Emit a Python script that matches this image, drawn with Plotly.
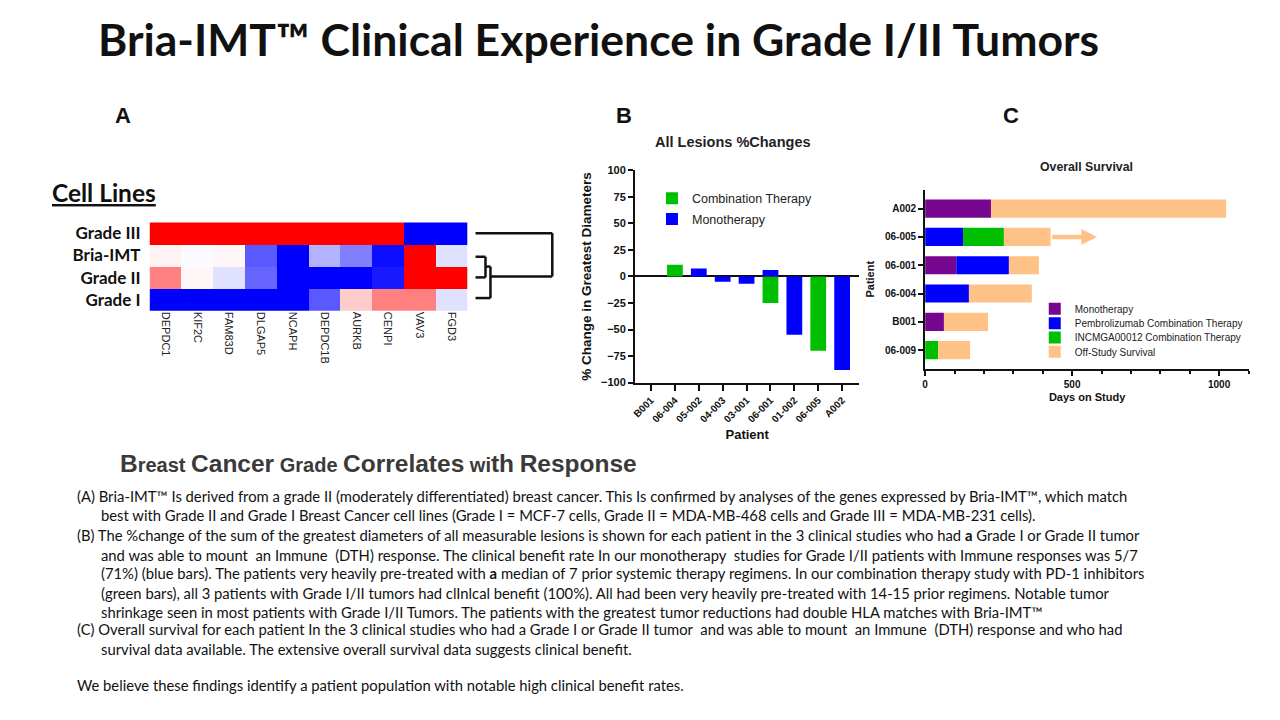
import plotly.graph_objects as go

W, H = 1280, 720

def px(x):
    return x / W

def py(y):
    return 1 - y / H

# ---------------- Data ----------------
# Panel A: heatmap
genes = ["DEPDC1", "KIF2C", "FAM83D", "DLGAP5", "NCAPH", "DEPDC1B", "AURKB", "CENPI", "VAV3", "FGD3"]
cell_lines = ["Grade III", "Bria-IMT", "Grade II", "Grade I"]
expr_grade3 = [1, 1, 1, 1, 1, 1, 1, 1, -1, -1]
expr_bria = [0.05, -0.02, 0.03, -0.65, -1, -0.3, -0.5, -0.95, 1, -0.12]
expr_grade2 = [0.5, 0.03, -0.12, -0.6, -1, -1, -1, -0.9, 1, 1]
expr_grade1 = [-1, -1, -1, -1, -1, -0.65, 0.2, 0.5, 0.5, -0.12]

# Panel B: waterfall
patients_b = ["B001", "06-004", "05-002", "04-003", "03-001", "06-001", "01-002", "06-005", "A002"]
combination_change = [None, 11, None, None, None, -25, None, -70, None]
mono_change = [None, None, 7.5, -5, -7, 6, -55, None, -88]

# Panel C: overall survival (days)
patients_c = ["06-009", "B001", "06-004", "06-001", "06-005", "A002"]
mono_days = [None, 64, None, 106, None, 224]
pembro_days = [None, None, 149, 179, 129, None]
incmga_days = [44, None, None, None, 139, None]
offstudy_days = [109, 150, 214, 102, 159, 800]
arrow_start_06_005 = 427
arrow_end_06_005 = 585

BLACK = "#111111"
GREEN = "#00BF00"
BLUE = "#0000FF"
PURPLE = "#76058F"
PEACH = "#FFC286"
SANS = "Liberation Sans, Arial"

fig = go.Figure()

# ---------------- Panel A heatmap ----------------
fig.add_trace(go.Heatmap(
    z=[expr_grade3, expr_bria, expr_grade2, expr_grade1],
    x=genes, y=cell_lines,
    colorscale=[[0, "#0000FF"], [0.5, "#FFFFFF"], [1, "#FF0000"]],
    zmin=-1, zmax=1, showscale=False,
    xaxis="x", yaxis="y", hoverinfo="skip",
))

# ---------------- Panel B bars ----------------
fig.add_trace(go.Bar(
    x=patients_b, y=combination_change, name="Combination Therapy",
    marker=dict(color=GREEN, line=dict(width=0)), width=0.66,
    xaxis="x2", yaxis="y2", legend="legend",
))
fig.add_trace(go.Bar(
    x=patients_b, y=mono_change, name="Monotherapy",
    marker=dict(color=BLUE, line=dict(width=0)), width=0.66,
    xaxis="x2", yaxis="y2", legend="legend2",
))

# ---------------- Panel C bars ----------------
c_series = [
    (mono_days, "Monotherapy", PURPLE, "legend3"),
    (pembro_days, "Pembrolizumab Combination Therapy", BLUE, "legend4"),
    (incmga_days, "INCMGA00012 Combination Therapy", GREEN, "legend5"),
    (offstudy_days, "Off-Study Survival", PEACH, "legend6"),
]
for vals, name, col, lg in c_series:
    fig.add_trace(go.Bar(
        y=patients_c, x=vals, name=name, orientation="h",
        marker=dict(color=col, line=dict(width=0)), width=0.64,
        xaxis="x3", yaxis="y3", legend=lg,
    ))

def legend_at(x, y, size):
    return dict(x=px(x), y=py(y), xanchor="left", yanchor="middle",
                bgcolor="rgba(0,0,0,0)", itemclick=False, itemdoubleclick=False,
                font=dict(family=SANS, size=size, color="#222"))

fig.update_layout(
    width=W, height=H,
    margin=dict(l=0, r=0, t=0, b=0),
    paper_bgcolor="white", plot_bgcolor="rgba(0,0,0,0)",
    barmode="relative",
    # heatmap axes
    xaxis=dict(domain=[px(146), px(465)], anchor="y", tickangle=90,
               tickfont=dict(family=SANS, size=11, color="#222"),
               showgrid=False, zeroline=False, ticks="", showline=False),
    yaxis=dict(domain=[py(310), py(220)], anchor="x", autorange="reversed",
               tickfont=dict(family="Lato", size=17, color=BLACK, weight="bold"),
               showgrid=False, zeroline=False, ticks="", ticklabelstandoff=8),
    # panel B axes
    xaxis2=dict(domain=[px(633), px(858)], anchor="y2", range=[-0.67, 8.72],
                type="category", tickangle=-45,
                tickfont=dict(family=SANS, size=10, color=BLACK, weight="bold"),
                showline=True, linecolor=BLACK, linewidth=2,
                ticks="outside", ticklen=6, tickwidth=2, tickcolor=BLACK,
                showgrid=False, zeroline=False,
                title=dict(text="Patient", standoff=6,
                           font=dict(family=SANS, size=13, color=BLACK, weight="bold"))),
    yaxis2=dict(domain=[py(383), py(167)], anchor="x2", range=[-100, 100],
                tickvals=[-100, -75, -50, -25, 0, 25, 50, 75, 100],
                tickfont=dict(family=SANS, size=11, color=BLACK, weight="bold"),
                showline=True, linecolor=BLACK, linewidth=2,
                ticks="outside", ticklen=5, tickwidth=2, tickcolor=BLACK,
                showgrid=False, zeroline=True, zerolinecolor=BLACK, zerolinewidth=2,
                title=dict(text="% Change in Greatest Diameters", standoff=6,
                           font=dict(family=SANS, size=13.5, color=BLACK, weight="bold"))),
    # panel C axes
    xaxis3=dict(domain=[px(924), px(1249)], anchor="y3", range=[0, 1102],
                tickvals=[0, 500, 1000],
                tickfont=dict(family=SANS, size=10, color=BLACK, weight="bold"),
                showline=True, linecolor=BLACK, linewidth=2,
                ticks="outside", ticklen=5, tickwidth=2, tickcolor=BLACK,
                minor=dict(dtick=100, ticks="outside", ticklen=3.5, tickwidth=1.5, tickcolor=BLACK, showgrid=False),
                showgrid=False, zeroline=False,
                title=dict(text="Days on Study", standoff=4,
                           font=dict(family=SANS, size=11, color=BLACK, weight="bold"))),
    yaxis3=dict(domain=[py(369), py(186.7)], anchor="x3", range=[-0.66, 5.67],
                type="category", categoryorder="array", categoryarray=patients_c,
                tickfont=dict(family=SANS, size=10, color=BLACK, weight="bold"),
                showline=True, linecolor=BLACK, linewidth=2,
                ticks="outside", ticklen=5, tickwidth=1.5, tickcolor=BLACK,
                showgrid=False, zeroline=False,
                title=dict(text="Patient", standoff=8,
                           font=dict(family=SANS, size=11, color=BLACK, weight="bold"))),
    legend=legend_at(650, 196, 12.5),
    legend2=legend_at(650, 217, 12.5),
    legend3=legend_at(1034, 308, 10),
    legend4=legend_at(1034, 322.5, 10),
    legend5=legend_at(1034, 337, 10),
    legend6=legend_at(1034, 351.5, 10),
    showlegend=True,
)

ann = []

def text(x, y, s, size, family="Lato", color=BLACK, xanchor="center", bold=False):
    ann.append(dict(x=px(x), y=py(y), xref="paper", yref="paper", text=s, showarrow=False,
                    xanchor=xanchor, yanchor="middle",
                    font=dict(family=family, size=size, color=color,
                              weight="bold" if bold else "normal")))

# main title
text(596, 33, "Bria-IMT™ Clinical Experience in Grade I/II Tumors", 44.5, bold=True)
# panel letters
text(119, 111, "A", 22, bold=True, family=SANS)
text(622, 111, "B", 22, bold=True, family=SANS)
text(1010, 111, "C", 22, bold=True, family=SANS)
# cell lines label
text(46, 190, "<u>Cell Lines</u>", 24.5, bold=True, xanchor="left")
# chart titles
text(731, 138, "All Lesions %Changes", 14.5, bold=True, family=SANS, color="#222")
text(1086, 164, "Overall Survival", 12.3, bold=True, family=SANS, color="#222")

# heading
text(376, 465,
     "<span style='font-size:24.5px'>B</span>reast <span style='font-size:24.5px'>Cancer</span> Grade "
     "<span style='font-size:24.5px'>Correlates</span> wi<span style='font-size:24.5px'>th</span> "
     "<span style='font-size:24.5px'>Response</span>",
     20, bold=True, family=SANS, color="#3a3a3a")

body = [
    (71, 498, "(A) Bria-IMT™ Is derived from a grade II (moderately differentiated) breast cancer. This Is confirmed by analyses of the genes expressed by Bria-IMT™, which match"),
    (95, 518, "best with Grade II and Grade I Breast Cancer cell lines (Grade I = MCF-7 cells, Grade II = MDA-MB-468 cells and Grade III = MDA-MB-231 cells)."),
    (71, 538, "(B) The %change of the sum of the greatest diameters of all measurable lesions is shown for each patient in the 3 clinical studies who had <b>a</b> Grade I or Grade II tumor"),
    (95, 558, "and was able to mount  an Immune  (DTH) response. The clinical benefit rate In our monotherapy  studies for Grade I/II patients with Immune responses was 5/7"),
    (95, 577, "(71%) (blue bars). The patients very heavily pre-treated with <b>a</b> median of 7 prior systemic therapy regimens. In our combination therapy study with PD-1 inhibitors"),
    (95, 597, "(green bars), all 3 patients with Grade I/II tumors had clInlcal benefit (100%). All had been very heavily pre-treated with 14-15 prior regimens. Notable tumor"),
    (95, 616, "shrinkage seen in most patients with Grade I/II Tumors. The patients with the greatest tumor reductions had double HLA matches with Bria-IMT™"),
    (71, 634, "(C) Overall survival for each patient In the 3 clinical studies who had a Grade I or Grade II tumor  and was able to mount  an Immune  (DTH) response and who had"),
    (95, 654, "survival data available. The extensive overall survival data suggests clinical benefit."),
    (71, 691, "We believe these findings identify a patient population with notable high clinical benefit rates."),
]
for x, y, s in body:
    text(x, y, s, 14.8, xanchor="left", color="#111")

# arrow for 06-005 continuing survival
ann.append(dict(x=arrow_end_06_005, y="06-005", xref="x3", yref="y3",
                ax=arrow_start_06_005, ay=0, axref="x3", ayref="pixel",
                showarrow=True, arrowhead=2, arrowsize=0.7, arrowwidth=4.5,
                arrowcolor=PEACH, text=""))

fig.update_layout(annotations=ann)

# dendrogram (panel A)
segs = [
    ((473, 231), (550, 231)),
    ((550, 231), (550, 275)),
    ((488, 275), (550, 275)),
    ((473, 255), (483, 255)),
    ((473, 276), (483, 276)),
    ((483, 255), (483, 276)),
    ((483, 265), (488, 265)),
    ((488, 265), (488, 297)),
    ((473, 297), (488, 297)),
]
shapes = []
for (x0, y0), (x1, y1) in segs:
    shapes.append(dict(type="line", xref="paper", yref="paper",
                       x0=px(x0), y0=py(y0), x1=px(x1), y1=py(y1),
                       line=dict(color=BLACK, width=2.5)))
fig.update_layout(shapes=shapes)

fig.write_html("out.html", config={"displayModeBar": False},
               post_script="document.body.style.margin='0';document.body.style.overflow='hidden';")
